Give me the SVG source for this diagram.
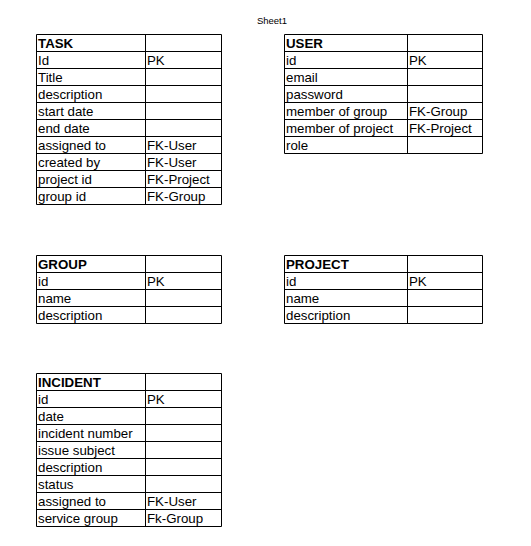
<svg xmlns="http://www.w3.org/2000/svg" width="531" height="546" viewBox="0 0 531 546">
<style>
.g{fill:none;stroke:#000;stroke-width:1}
text{font-family:"Liberation Sans",Arial,sans-serif;font-size:13.3px;fill:#000}
.h{font-weight:bold}
.t{font-size:9.5px}
</style>
<rect width="531" height="546" fill="#fff"/>
<text class="t" x="272" y="24" text-anchor="middle">Sheet1</text>

<g id="task">
<path class="g" d="M36.5 34.5H221.5V204.5H36.5Z M145.5 34.5V204.5 M36.5 51.5H221.5 M36.5 68.5H221.5 M36.5 85.5H221.5 M36.5 102.5H221.5 M36.5 119.5H221.5 M36.5 136.5H221.5 M36.5 153.5H221.5 M36.5 170.5H221.5 M36.5 187.5H221.5"/>
<text class="h" x="38" y="48">TASK</text>
<text x="38" y="65">Id</text><text x="147" y="65">PK</text>
<text x="38" y="82">Title</text>
<text x="38" y="99">description</text>
<text x="38" y="116">start date</text>
<text x="38" y="133">end date</text>
<text x="38" y="150">assigned to</text><text x="147" y="150">FK-User</text>
<text x="38" y="167">created by</text><text x="147" y="167">FK-User</text>
<text x="38" y="184">project id</text><text x="147" y="184">FK-Project</text>
<text x="38" y="201">group id</text><text x="147" y="201">FK-Group</text>
</g>

<g id="user">
<path class="g" d="M284.5 34.5H482.5V153.5H284.5Z M407.5 34.5V153.5 M284.5 51.5H482.5 M284.5 68.5H482.5 M284.5 85.5H482.5 M284.5 102.5H482.5 M284.5 119.5H482.5 M284.5 136.5H482.5"/>
<text class="h" x="286" y="48">USER</text>
<text x="286" y="65">id</text><text x="409" y="65">PK</text>
<text x="286" y="82">email</text>
<text x="286" y="99">password</text>
<text x="286" y="116">member of group</text><text x="409" y="116">FK-Group</text>
<text x="286" y="133">member of project</text><text x="409" y="133">FK-Project</text>
<text x="286" y="150">role</text>
</g>

<g id="group">
<path class="g" d="M36.5 255.5H221.5V323.5H36.5Z M145.5 255.5V323.5 M36.5 272.5H221.5 M36.5 289.5H221.5 M36.5 306.5H221.5"/>
<text class="h" x="38" y="269">GROUP</text>
<text x="38" y="286">id</text><text x="147" y="286">PK</text>
<text x="38" y="303">name</text>
<text x="38" y="320">description</text>
</g>

<g id="project">
<path class="g" d="M284.5 255.5H482.5V323.5H284.5Z M407.5 255.5V323.5 M284.5 272.5H482.5 M284.5 289.5H482.5 M284.5 306.5H482.5"/>
<text class="h" x="286" y="269">PROJECT</text>
<text x="286" y="286">id</text><text x="409" y="286">PK</text>
<text x="286" y="303">name</text>
<text x="286" y="320">description</text>
</g>

<g id="incident">
<path class="g" d="M36.5 373.5H221.5V526.5H36.5Z M145.5 373.5V526.5 M36.5 390.5H221.5 M36.5 407.5H221.5 M36.5 424.5H221.5 M36.5 441.5H221.5 M36.5 458.5H221.5 M36.5 475.5H221.5 M36.5 492.5H221.5 M36.5 509.5H221.5"/>
<text class="h" x="38" y="387">INCIDENT</text>
<text x="38" y="404">id</text><text x="147" y="404">PK</text>
<text x="38" y="421">date</text>
<text x="38" y="438">incident number</text>
<text x="38" y="455">issue subject</text>
<text x="38" y="472">description</text>
<text x="38" y="489">status</text>
<text x="38" y="506">assigned to</text><text x="147" y="506">FK-User</text>
<text x="38" y="523">service group</text><text x="147" y="523">Fk-Group</text>
</g>

<g id="connectors"></g>
</svg>
